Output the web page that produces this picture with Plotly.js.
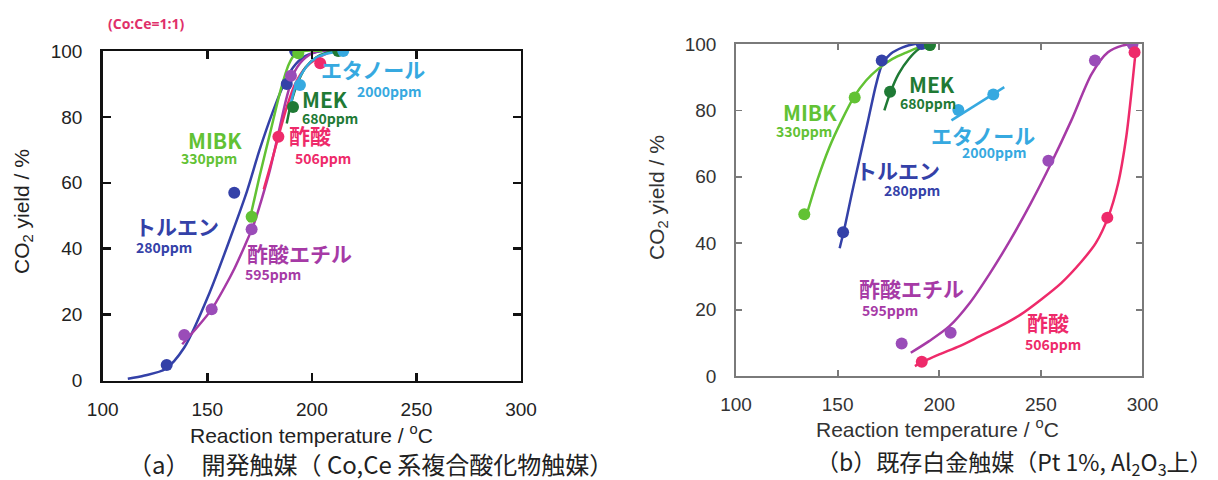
<!DOCTYPE html>
<html>
<head>
<meta charset="utf-8">
<script src="https://cdn.plot.ly/plotly-3.0.1.min.js"></script>
<style>html,body{margin:0;padding:0;background:#fff;}#chart{width:1218px;height:480px;}</style>
</head>
<body>
<div id="chart"></div>
<script>
// ---------- axis ticks ----------
const xTickVals = [100, 150, 200, 250, 300];
const yTickVals = [0, 20, 40, 60, 80, 100];

// ---------- (a) developed catalyst: measured points ----------
const aTolueneT = [130.6, 162.9, 188, 192];
const aTolueneY = [4.7, 57, 90, 100];
const aMibkT = [171.2, 193.5];
const aMibkY = [49.7, 99.3];
const aEtAcT = [139, 152.1, 171.2, 190];
const aEtAcY = [13.8, 21.6, 45.9, 92.5];
const aAcidT = [184, 204];
const aAcidY = [74, 96.3];
const aMekT = [191, 212.6];
const aMekY = [83, 100];
const aEthanolT = [194.3, 215];
const aEthanolY = [89.7, 100];

// ---------- (a) fitted curves ----------
const aTolueneCurveT = [112, 120, 130, 139, 151, 162, 169, 175, 181, 186, 191, 197, 205, 212];
const aTolueneCurveY = [0.5, 1.5, 3.5, 10, 26.5, 45, 57.5, 70, 81, 89, 95, 98.5, 100, 100];
const aMibkCurveT = [170, 175, 180, 185, 189, 192, 196, 205];
const aMibkCurveY = [48, 62, 75, 88, 96, 99, 100, 100];
const aEtAcCurveT = [138, 145, 152, 158, 163, 168, 172, 176, 180, 184, 188, 192, 197, 203, 210];
const aEtAcCurveY = [11, 16, 21.5, 28, 34, 41, 47, 55, 64, 75, 86, 94, 98, 100, 100];
const aAcidCurveT = [177, 181, 184, 188, 192, 197, 203, 210];
const aAcidCurveY = [58, 67, 74, 83, 90, 95, 98, 100];
const aMekCurveT = [188, 190, 193, 197, 202, 207, 213];
const aMekCurveY = [78, 84, 90, 95, 98, 99.5, 100];
const aEthanolCurveT = [190, 192, 195, 200, 206, 215];
const aEthanolCurveY = [84, 89, 93, 97, 99, 100];

// ---------- (b) Pt catalyst: measured points ----------
const bTolueneT = [152.7, 171.7, 191.4];
const bTolueneY = [43.3, 95, 100];
const bMibkT = [133.6, 158.4, 195.4];
const bMibkY = [48.7, 83.9, 99.7];
const bMekT = [175.8, 195.4];
const bMekY = [85.6, 99.7];
const bEthanolT = [209.4, 226.6];
const bEthanolY = [80.1, 84.8];
const bEtAcT = [181.5, 205.6, 253.7, 276.6, 295.1];
const bEtAcY = [9.8, 13, 64.8, 95, 100];
const bAcidT = [191.4, 282.7, 296.1];
const bAcidY = [4.3, 47.7, 97.5];

// ---------- (b) fitted curves ----------
const bTolueneCurveT = [151, 153, 157, 161, 165, 169, 172, 176, 182, 188, 192];
const bTolueneCurveY = [38.5, 43.5, 55, 66, 77, 88, 94, 97, 99, 100, 100];
const bMibkCurveT = [134, 140, 146, 152, 158, 164, 170, 177, 184, 190, 196];
const bMibkCurveY = [47, 59, 69, 77, 84, 89, 92.5, 95.5, 97.5, 99, 100];
const bMekCurveT = [173, 176, 180, 185, 190, 196];
const bMekCurveY = [80, 85.5, 91, 95.5, 98.5, 100];
const bEthanolCurveT = [206, 232];
const bEthanolCurveY = [77, 87];
const bEtAcCurveT = [186, 195, 205, 215, 225, 235, 245, 255, 265, 275, 283, 290, 295];
const bEtAcCurveY = [7, 10.5, 15, 22, 31, 41, 52, 64, 77, 91, 97.5, 99.5, 100];
const bAcidCurveT = [188, 192, 200, 210, 220, 230, 240, 250, 260, 270, 277, 283, 288, 292, 295, 297];
const bAcidCurveY = [3, 4.3, 6.5, 9, 12, 15, 18.5, 23, 28, 34.5, 40, 47.7, 58, 72, 88, 100];

// ---------- series labels ----------
const seriesNames = ['トルエン', 'MIBK', '酢酸エチル', '酢酸', 'MEK', 'エタノール'];
const seriesPpm = ['280ppm', '330ppm', '595ppm', '506ppm', '680ppm', '2000ppm'];

const C = {
  toluene: '#3441a8', mibk: '#62c234', etac: '#a63aa6', acid: '#ee2a6a',
  mek: '#1f7a35', ethanol: '#36a9e0'
};
const mC = {
  toluene: '#3441a8', mibk: '#62c234', etac: '#9a4cb8', acid: '#ee2a6a',
  mek: '#1f7a35', ethanol: '#36a9e0'
};

function curve(xs, ys, color, ax) {
  return {x: xs, y: ys, type: 'scatter', mode: 'lines', xaxis: ax[0], yaxis: ax[1],
    line: {color: color, width: 2.5, shape: 'spline', smoothing: 0.8}, hoverinfo: 'skip', showlegend: false};
}
function pts(xs, ys, color, ax, size) {
  return {x: xs, y: ys, type: 'scatter', mode: 'markers', xaxis: ax[0], yaxis: ax[1],
    marker: {color: color, size: size}, showlegend: false};
}
const A = ['x', 'y'], B = ['x2', 'y2'];

const data = [
  curve(aTolueneCurveT, aTolueneCurveY, C.toluene, A),
  curve(aEtAcCurveT, aEtAcCurveY, C.etac, A),
  curve(aMibkCurveT, aMibkCurveY, C.mibk, A),
  curve(aAcidCurveT, aAcidCurveY, C.acid, A),
  curve(aMekCurveT, aMekCurveY, C.mek, A),
  curve(aEthanolCurveT, aEthanolCurveY, C.ethanol, A),
  pts(aTolueneT, aTolueneY, mC.toluene, A, 12),
  pts(aEtAcT, aEtAcY, mC.etac, A, 12),
  pts(aMibkT, aMibkY, mC.mibk, A, 12),
  pts(aAcidT, aAcidY, mC.acid, A, 12),
  pts(aMekT, aMekY, mC.mek, A, 12),
  pts(aEthanolT, aEthanolY, mC.ethanol, A, 12),

  curve(bTolueneCurveT, bTolueneCurveY, C.toluene, B),
  curve(bMibkCurveT, bMibkCurveY, C.mibk, B),
  curve(bMekCurveT, bMekCurveY, C.mek, B),
  curve(bEthanolCurveT, bEthanolCurveY, C.ethanol, B),
  curve(bEtAcCurveT, bEtAcCurveY, C.etac, B),
  curve(bAcidCurveT, bAcidCurveY, C.acid, B),
  pts(bTolueneT, bTolueneY, mC.toluene, B, 12),
  pts(bMibkT, bMibkY, mC.mibk, B, 12),
  pts(bMekT, bMekY, mC.mek, B, 12),
  pts(bEthanolT, bEthanolY, mC.ethanol, B, 12),
  pts(bEtAcT, bEtAcY, mC.etac, B, 12),
  pts(bAcidT, bAcidY, mC.acid, B, 12)
];

function axis(domain, lineColor, lw, fontColor, anchor) {
  return {
    domain: domain, anchor: anchor, range: [0, 0], showgrid: false, zeroline: false,
    showline: true, linecolor: lineColor, linewidth: lw, mirror: 'ticks',
    ticks: 'inside', ticklen: 8, tickwidth: lw, tickcolor: lineColor,
    ticklabelstandoff: 14,
    tickfont: {family: 'Liberation Sans, Arial, sans-serif', size: 19, color: fontColor},
    fixedrange: true
  };
}
const xa = axis([0.08432, 0.42775], '#111', 2.5, '#222', 'y');
xa.range = [100, 300]; xa.tickvals = xTickVals; xa.ticklabelstandoff = 10;
const ya = axis([0.20729, 0.89375], '#111', 2.5, '#222', 'x');
ya.range = [0, 100]; ya.tickvals = yTickVals;
const xb = axis([0.60427, 0.93801], '#7a7a7a', 1.8, '#333', 'y2');
xb.range = [100, 300]; xb.tickvals = xTickVals; xb.ticklen = 6; xb.ticklabelstandoff = 10;
const yb = axis([0.21667, 0.90833], '#7a7a7a', 1.8, '#333', 'x2');
yb.range = [0, 100]; yb.tickvals = yTickVals; yb.ticklen = 6;

const bigFont = (c) => ({family: 'Noto Sans CJK JP, sans-serif', size: 21, color: c, weight: 700});
const ppmFont = (c) => ({family: 'Noto Sans CJK JP, sans-serif', size: 14, color: c, weight: 700});
function lab(text, x, y, font, ax) {
  return {text: text, x: x, y: y, xref: ax[0], yref: ax[1], showarrow: false, font: font,
    xanchor: 'center', yanchor: 'middle', borderpad: 0};
}
function paperText(text, px, py, size, color, extra) {
  return Object.assign({text: text, x: px / 1218, y: 1 - py / 480, xref: 'paper', yref: 'paper',
    showarrow: false, xanchor: 'center', yanchor: 'middle',
    font: {family: 'Liberation Sans, Arial, sans-serif', size: size, color: color}}, extra || {});
}

const annotations = [
  // panel (a) labels
  lab(seriesNames[5], 229.1, 94.4, bigFont(C.ethanol), A),
  lab(seriesPpm[5], 237.2, 87.8, ppmFont(C.ethanol), A),
  lab(seriesNames[4], 206.5, 85.3, bigFont(C.mek), A),
  lab(seriesPpm[4], 208.7, 79.6, ppmFont(C.mek), A),
  lab(seriesNames[3], 199, 74.4, bigFont(C.acid), A),
  lab(seriesPpm[3], 205.3, 67.6, ppmFont(C.acid), A),
  lab(seriesNames[1], 153.5, 73.1, bigFont(C.mibk), A),
  lab(seriesPpm[1], 150.8, 67.4, ppmFont(C.mibk), A),
  lab(seriesNames[0], 135.7, 46.9, bigFont(C.toluene), A),
  lab(seriesPpm[0], 129.1, 40.6, ppmFont(C.toluene), A),
  lab(seriesNames[2], 193.9, 38.6, bigFont(C.etac), A),
  lab(seriesPpm[2], 181.6, 32.3, ppmFont(C.etac), A),
  // panel (b) labels
  lab(seriesNames[4], 196.3, 88.1, bigFont(C.mek), B),
  lab(seriesPpm[4], 194.5, 82.3, ppmFont(C.mek), B),
  lab(seriesNames[5], 221.3, 72.5, bigFont(C.ethanol), B),
  lab(seriesPpm[5], 227.4, 67.4, ppmFont(C.ethanol), B),
  lab(seriesNames[0], 179.7, 61.9, bigFont(C.toluene), B),
  lab(seriesPpm[0], 186.6, 56.1, ppmFont(C.toluene), B),
  lab(seriesNames[2], 186.1, 26.6, bigFont(C.etac), B),
  lab(seriesPpm[2], 176, 19.8, ppmFont(C.etac), B),
  lab(seriesNames[3], 253.5, 16.3, bigFont(C.acid), B),
  lab(seriesPpm[3], 256, 9.6, ppmFont(C.acid), B),
  lab(seriesNames[1], 136.4, 79.5, bigFont(C.mibk), B),
  lab(seriesPpm[1], 133.5, 73.7, ppmFont(C.mibk), B),
  // axis titles
  paperText('Reaction temperature / <sup>o</sup>C', 311, 434, 21, '#222'),
  paperText('CO<sub>2</sub> yield / %', 23, 212, 21, '#222', {textangle: -90}),
  paperText('Reaction temperature / <sup>o</sup>C', 938, 428, 21, '#333'),
  paperText('CO<sub>2</sub> yield / %', 658, 198, 21, '#333', {textangle: -90}),
  // ratio note and captions
  paperText('(Co:Ce=1:1)', 146.7, 23.5, 14, '#e0306a', {font: {family: 'Open Sans, sans-serif', size: 14, color: '#e0306a', weight: 700}}),
  paperText('（a）　開発触媒（ Co,Ce 系複合酸化物触媒）', 370, 463, 24, '#222', {font: {family: 'Noto Sans CJK JP, sans-serif', size: 24, color: '#222'}, borderpad: 0}),
  paperText('（b）既存白金触媒（Pt 1%, Al<sub>2</sub>O<sub>3</sub>上）', 1014, 462, 23, '#222', {font: {family: 'Noto Sans CJK JP, sans-serif', size: 23, color: '#222'}, borderpad: 0})
];

const layout = {
  width: 1218, height: 480, margin: {l: 0, r: 0, t: 0, b: 0},
  paper_bgcolor: '#ffffff', plot_bgcolor: '#ffffff', showlegend: false,
  xaxis: xa, yaxis: ya, xaxis2: xb, yaxis2: yb, annotations: annotations
};
Plotly.newPlot('chart', data, layout, {displayModeBar: false, staticPlot: true});
</script>
</body>
</html>
